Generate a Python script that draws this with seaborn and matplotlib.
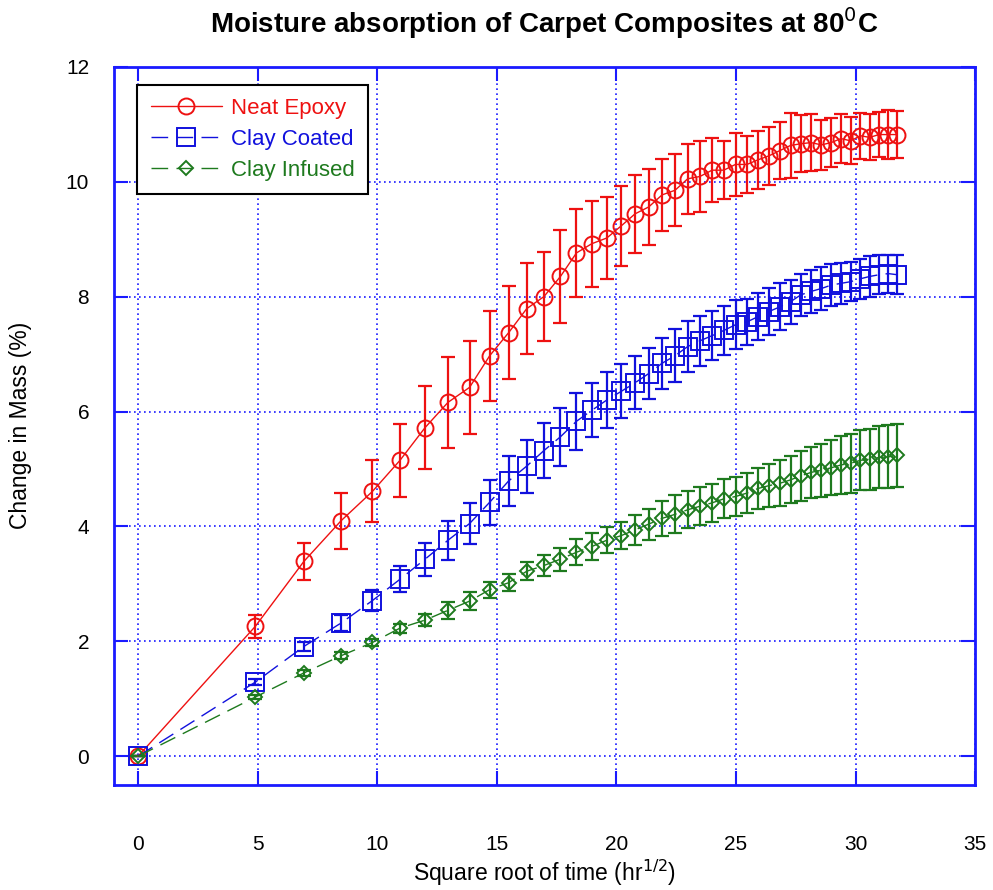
import matplotlib
matplotlib.use("Agg")
import matplotlib.pyplot as plt
import seaborn as sns
import pandas as pd

# Square root of exposure time (hr^1/2)
sqrt_time = [0, 4.90, 6.93, 8.49, 9.80, 10.95, 12.00, 12.96, 13.86, 14.70, 15.49,
             16.25, 16.97, 17.66, 18.33, 18.97, 19.60, 20.20, 20.78, 21.35, 21.91,
             22.45, 22.98, 23.49, 24.00, 24.49, 24.98, 25.46, 25.92, 26.38, 26.83,
             27.28, 27.71, 28.14, 28.57, 28.98, 29.39, 29.80, 30.20, 30.59, 30.98,
             31.37, 31.75]

neat_epoxy = [0, 2.26, 3.39, 4.10, 4.61, 5.15, 5.72, 6.16, 6.42, 6.97, 7.37, 7.79,
              8.00, 8.35, 8.76, 8.92, 9.02, 9.23, 9.44, 9.56, 9.77, 9.85, 10.05,
              10.09, 10.20, 10.20, 10.30, 10.30, 10.38, 10.45, 10.54, 10.63, 10.66,
              10.68, 10.64, 10.68, 10.75, 10.71, 10.80, 10.77, 10.82, 10.82, 10.82]
neat_epoxy_err = [0, 0.20, 0.32, 0.49, 0.54, 0.64, 0.72, 0.79, 0.81, 0.78, 0.81,
                  0.79, 0.78, 0.81, 0.77, 0.75, 0.72, 0.70, 0.68, 0.66, 0.63, 0.63,
                  0.61, 0.61, 0.56, 0.51, 0.55, 0.49, 0.51, 0.51, 0.50, 0.57, 0.50,
                  0.49, 0.44, 0.43, 0.43, 0.41, 0.40, 0.40, 0.39, 0.43, 0.41]

clay_coated = [0, 1.29, 1.91, 2.32, 2.71, 3.08, 3.43, 3.76, 4.05, 4.42, 4.79, 5.05,
               5.32, 5.56, 5.83, 6.02, 6.20, 6.35, 6.50, 6.66, 6.84, 6.97, 7.13,
               7.23, 7.32, 7.41, 7.51, 7.56, 7.65, 7.74, 7.82, 7.91, 8.03, 8.09,
               8.14, 8.20, 8.23, 8.26, 8.31, 8.35, 8.38, 8.40, 8.38]
clay_coated_err = [0, 0.05, 0.08, 0.14, 0.19, 0.23, 0.29, 0.34, 0.36, 0.39, 0.43,
                   0.46, 0.48, 0.50, 0.50, 0.47, 0.49, 0.47, 0.46, 0.45, 0.44, 0.46,
                   0.44, 0.44, 0.43, 0.43, 0.43, 0.40, 0.41, 0.41, 0.41, 0.38, 0.37,
                   0.37, 0.37, 0.36, 0.36, 0.34, 0.35, 0.36, 0.34, 0.33, 0.34]

clay_infused = [0, 1.03, 1.45, 1.75, 1.98, 2.23, 2.37, 2.54, 2.70, 2.90, 3.02, 3.22,
                3.32, 3.43, 3.55, 3.65, 3.76, 3.84, 3.94, 4.04, 4.14, 4.21, 4.29,
                4.35, 4.41, 4.48, 4.52, 4.58, 4.66, 4.71, 4.75, 4.81, 4.88, 4.94,
                4.98, 5.02, 5.07, 5.10, 5.15, 5.17, 5.20, 5.21, 5.24]
clay_infused_err = [0, 0.04, 0.05, 0.06, 0.06, 0.08, 0.11, 0.15, 0.15, 0.14, 0.15,
                    0.16, 0.18, 0.20, 0.23, 0.23, 0.23, 0.24, 0.26, 0.27, 0.30, 0.33,
                    0.32, 0.33, 0.33, 0.34, 0.34, 0.35, 0.36, 0.38, 0.40, 0.41, 0.43,
                    0.45, 0.46, 0.48, 0.50, 0.51, 0.52, 0.53, 0.54, 0.55, 0.55]

x_ticks = [0, 5, 10, 15, 20, 25, 30, 35]
y_ticks = [0, 2, 4, 6, 8, 10, 12]

series = [
    ("Neat Epoxy", neat_epoxy, neat_epoxy_err, "#ee1111", "o", 11.5, None),
    ("Clay Coated", clay_coated, clay_coated_err, "#1111dd", "s", 12.5, (12, 6)),
    ("Clay Infused", clay_infused, clay_infused_err, "#1e7a1e", "D", 7.0, (12, 6)),
]

sns.set_theme(style="white")
plt.rcParams["font.family"] = ["Liberation Sans", "DejaVu Sans"]
plt.rcParams["text.color"] = "black"
plt.rcParams["axes.labelcolor"] = "black"

fig = plt.figure(figsize=(9.93, 8.90), dpi=100)
ax = fig.add_axes([0.115, 0.118, 0.867, 0.807])

axis_blue = "#1a1aff"
handles = []
for name, vals, errs, color, marker, msize, dash in series:
    df = pd.DataFrame({"t": sqrt_time, "m": vals})
    ax.errorbar(df["t"], df["m"], yerr=errs, fmt="none", ecolor=color,
                elinewidth=1.6, capsize=4.8, capthick=1.6, zorder=2)
    sns.lineplot(data=df, x="t", y="m", ax=ax, color=color, linewidth=1.0,
                 marker=marker, markersize=msize, markerfacecolor="none",
                 markeredgecolor=color, markeredgewidth=1.4, zorder=3,
                 label=name, legend=False)
    line = ax.lines[-1]
    if dash is not None:
        line.set_dashes(dash)
    handles.append(line)

ax.set_xlim(-1, 35)
ax.set_ylim(-0.5, 12)
ax.set_xticks(x_ticks)
ax.set_yticks(y_ticks)

ax.grid(True, color=axis_blue, linestyle=(0, (1, 2)), linewidth=1.2)
for sp in ax.spines.values():
    sp.set_color(axis_blue)
    sp.set_linewidth(2)
ax.tick_params(axis="both", which="major", direction="in", length=10, width=1.5,
               color=axis_blue, labelsize=15, labelcolor="black",
               top=True, right=True, bottom=True, left=True)
ax.tick_params(axis="x", pad=36)
ax.tick_params(axis="y", pad=18)

ax.set_xlabel("Square root of time (hr$^{1/2}$)", fontsize=16.5, labelpad=3,
              color="black")
ax.set_ylabel("Change in Mass (%)", fontsize=16.5, labelpad=24, color="black")
ax.set_title("Moisture absorption of Carpet Composites at 80$^{0}$C",
             fontsize=20, fontweight="bold", pad=24, color="black")

leg = ax.legend(handles=handles, labels=[s[0] for s in series],
                loc="upper left", bbox_to_anchor=(0.027, 0.975),
                borderaxespad=0, fancybox=False, framealpha=1,
                edgecolor="black", fontsize=16, handlelength=3.2,
                handletextpad=0.4, borderpad=0.6, labelspacing=0.45)
leg.get_frame().set_linewidth(1.5)
for text, s in zip(leg.get_texts(), series):
    text.set_color(s[3])

fig.savefig("out.png", dpi=100)
